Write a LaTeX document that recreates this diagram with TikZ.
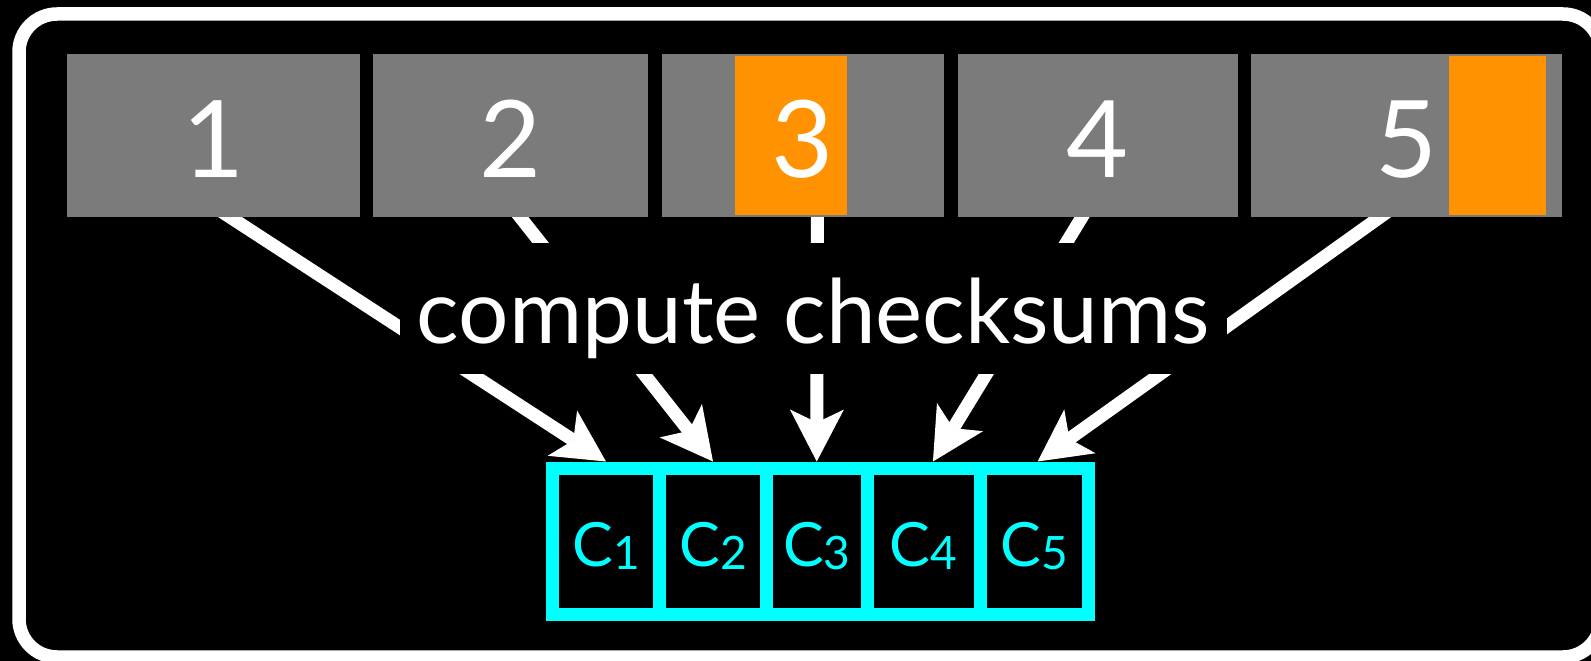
\documentclass[tikz,border=0pt]{standalone}
\usepackage{fontspec}
\setmainfont{Lato}
\usetikzlibrary{arrows.meta,calc}
\definecolor{blockgray}{RGB}{123,123,123}
\definecolor{hiorange}{RGB}{255,146,0}
\definecolor{sumcyan}{RGB}{0,255,255}
\pgfdeclarelayer{backdrop}
\pgfdeclarelayer{wires}
\pgfsetlayers{backdrop,wires,main}
% lowered, slightly smaller index digit of a checksum name
\newcommand\subdigit[1]{\raisebox{-3pt}{\fontsize{46}{46}\selectfont #1}}

\begin{document}
\begin{tikzpicture}[x=1pt,y=-1pt,
  block/.style={fill=blockgray, draw=none, inner sep=0pt, outer sep=0pt, minimum height=163pt},
  digit/.style={text=white, font=\fontsize{107}{107}\selectfont, inner sep=0pt, anchor=base},
  hilite/.style={fill=hiorange},
  cell/.style={draw=sumcyan, line width=13pt, text=sumcyan, inner sep=0pt,
    minimum height=146pt, text height=50pt, text depth=0pt, font=\fontsize{61}{61}\selectfont},
  feed/.style={draw=white, line width=13pt, shorten <=-14pt,
    -{Stealth[length=52pt,width=54pt,inset=13pt,line width=0pt]}},
  caption/.style={fill=black, text=white, inner sep=0pt, minimum width=827pt,
    minimum height=131pt, text height=100pt, text depth=31pt, font=\fontsize{89}{89}\selectfont}]

\useasboundingbox (0,0) rectangle (1591,661);

\begin{pgfonlayer}{backdrop}
  \fill[black] (0,0) rectangle (1591,661);
  \draw[white, line width=13.5pt, rounded corners=38pt] (19,14) rectangle (1601,657);
\end{pgfonlayer}

% the five data blocks
\node[block, minimum width=293pt] (b1) at (213.5,135.5) {};
\node[block, minimum width=275pt] (b2) at (510.5,135.5) {};
\node[block, minimum width=282pt] (b3) at (803,135.5) {};
\node[block, minimum width=280pt] (b4) at (1098,135.5) {};
\node[block, minimum width=311pt] (b5) at (1406.5,135.5) {};

% changed regions
\fill[hilite] (735,56) rectangle (847,215);
\fill[hilite] (1449,56) rectangle (1546,215);

% block numbers
\node[digit] (d1) at ($(b1.south)+(0,-40)$) {1};
\node[digit] (d2) at ($(b2.south)+(0,-40)$) {2};
\node[digit] (d3) at ($(b3.south)+(0,-40)$) {3};
\node[digit] (d4) at ($(b4.south)+(0,-40)$) {4};
\node[digit] (d5) at ($(b5.south)+(0,-40)$) {5};

% checksum table
\node[cell, minimum width=107pt] (c1) at (606,541) {C\subdigit{1}};
\node[cell, minimum width=107pt] (c2) at (713,541) {C\subdigit{2}};
\node[cell, minimum width=100.5pt] (c3) at (816.75,541) {C\subdigit{3}};
\node[cell, minimum width=113pt] (c4) at (923.5,541) {C\subdigit{4}};
\node[cell, minimum width=108pt] (c5) at (1034,541) {C\subdigit{5}};

% label that masks the middle of the arrows
\node[caption] (cap) at (813.5,308.5) {compute checksums};

\begin{pgfonlayer}{wires}
  \draw[feed] ($(b1.south west)!0.556!(b1.south east)$) -- (c1.north);
  \draw[feed] ($(b2.south west)!0.535!(b2.south east)$) -- (c2.north);
  \draw[feed] ($(b3.south west)!0.551!(b3.south east)$) -- (c3.north);
  \draw[feed] ($(b4.south west)!0.443!(b4.south east)$) -- ($(c4.north west)!0.575!(c4.north east)$);
  \draw[feed] ($(b5.south west)!0.415!(b5.south east)$) -- ($(c5.north west)!0.53!(c5.north east)$);
\end{pgfonlayer}
\end{tikzpicture}
\end{document}
